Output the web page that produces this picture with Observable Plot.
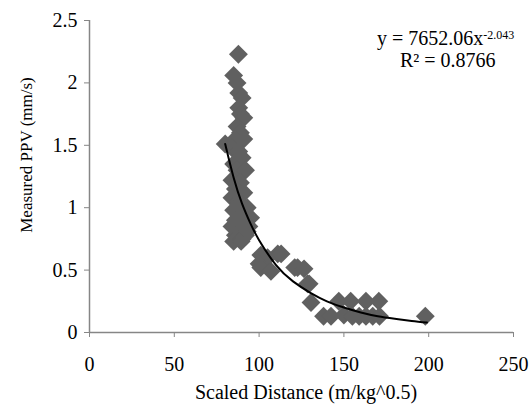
<!DOCTYPE html>
<html>
<head>
<meta charset="utf-8">
<script src="https://cdn.jsdelivr.net/npm/d3@7"></script>
<script src="https://cdn.jsdelivr.net/npm/@observablehq/plot@0.6"></script>
<style>
  html, body { margin: 0; padding: 0; background: white; }
  svg text { font-family: "Liberation Serif", "Times New Roman", serif !important; }
</style>
</head>
<body>
<div id="chart"></div>
<script>
// Scaled distance (m/kg^0.5) and measured PPV (mm/s)
const sdValues = [87.8, 85, 87, 88, 90, 88, 89, 91, 87, 89, 86, 91, 80, 84, 88, 90, 85, 87, 92, 84, 89, 86, 91, 84, 88, 93, 85, 89, 95, 86, 91, 84, 94, 88, 86, 92, 85, 90, 89.4, 93,
  101, 105, 111, 113, 100, 101, 107, 121, 122.7, 126.5, 128.6, 129.5, 130.6, 138, 142.4, 147, 150, 154, 155, 159, 163, 163, 167, 170.6, 171, 198];
const ppvValues = [2.23, 2.06, 2.0, 1.92, 1.88, 1.8, 1.75, 1.72, 1.65, 1.6, 1.55, 1.55, 1.51, 1.48, 1.45, 1.4, 1.35, 1.3, 1.3, 1.22, 1.2, 1.15, 1.12, 1.08, 1.05, 1.0, 0.98, 0.95, 0.92, 0.9, 0.88, 0.85, 0.85, 0.82, 0.78, 0.78, 0.73, 0.75, 0.73, 0.81,
  0.62, 0.6, 0.63, 0.63, 0.55, 0.52, 0.49, 0.52, 0.52, 0.51, 0.39, 0.39, 0.24, 0.13, 0.13, 0.25, 0.14, 0.25, 0.13, 0.13, 0.25, 0.13, 0.13, 0.25, 0.13, 0.13];

// Power trend line
const trendX = [80, 85, 90, 95, 100, 110, 120, 130, 140, 150, 160, 170, 180, 190, 199];
const trendY = [1.51, 1.24, 1.03, 0.87, 0.74, 0.54, 0.41, 0.32, 0.25, 0.2, 0.16, 0.13, 0.11, 0.093, 0.08];

const xTicks = [0, 50, 100, 150, 200, 250];
const yTicks = [0, 0.5, 1, 1.5, 2, 2.5];
const xTitle = "Scaled Distance (m/kg^0.5)";
const yTitle = "Measured PPV (mm/s)";
const eqMain = "y = 7652.06x";
const eqExp = "-2.043";
const r2Text = "R\u00B2 = 0.8766";

const points = sdValues.map((x, i) => ({x, y: ppvValues[i]}));
const trend = trendX.map((x, i) => ({x, y: trendY[i]}));

const axisColor = "#868686";
const fontFam = "'Liberation Serif', 'Times New Roman', serif";

const chart = Plot.plot({
  width: 530,
  height: 409,
  marginLeft: 89,
  marginRight: 17,
  marginTop: 20,
  marginBottom: 77,
  x: {domain: [0, 250], label: null},
  y: {domain: [0, 2.5], label: null},
  style: {fontFamily: fontFam, fontSize: "20px", color: "black", background: "white", overflow: "visible"},
  marks: [
    Plot.axisX(xTicks, {tickSize: 5, tickPadding: 19, stroke: axisColor, fill: "black", label: null, tickFormat: d => String(d)}),
    Plot.axisY(yTicks, {tickSize: 5, tickPadding: 7, stroke: axisColor, fill: "black", label: null, tickFormat: d => String(d)}),
    Plot.ruleY([0], {stroke: axisColor, strokeWidth: 1.5}),
    Plot.ruleX([0], {stroke: axisColor, strokeWidth: 1.5}),
    Plot.dot(points, {x: "x", y: "y", symbol: "diamond2", r: 8.5, fill: "#606060", stroke: "none"}),
    Plot.line(trend, {x: "x", y: "y", curve: "natural", stroke: "black", strokeWidth: 2})
  ]
});

document.getElementById("chart").appendChild(chart);

const svg = d3.select(chart);
// Equation annotation
const eq = svg.append("text")
  .attr("x", 377).attr("y", 45)
  .attr("text-anchor", "start")
  .style("font-size", "20px").attr("fill", "black");
eq.append("tspan").text(eqMain);
eq.append("tspan").attr("dy", -6).style("font-size", "12px").text(eqExp);
svg.append("text")
  .attr("x", 400).attr("y", 67)
  .attr("text-anchor", "start")
  .style("font-size", "20px").attr("fill", "black")
  .text(r2Text);
// Axis titles
svg.append("text")
  .attr("x", 306).attr("y", 399)
  .attr("text-anchor", "middle")
  .style("font-size", "20px").attr("fill", "black")
  .text(xTitle);
svg.append("text")
  .attr("transform", "translate(32,155) rotate(-90)")
  .attr("text-anchor", "middle")
  .style("font-size", "17px").attr("fill", "black")
  .text(yTitle);
</script>
</body>
</html>
